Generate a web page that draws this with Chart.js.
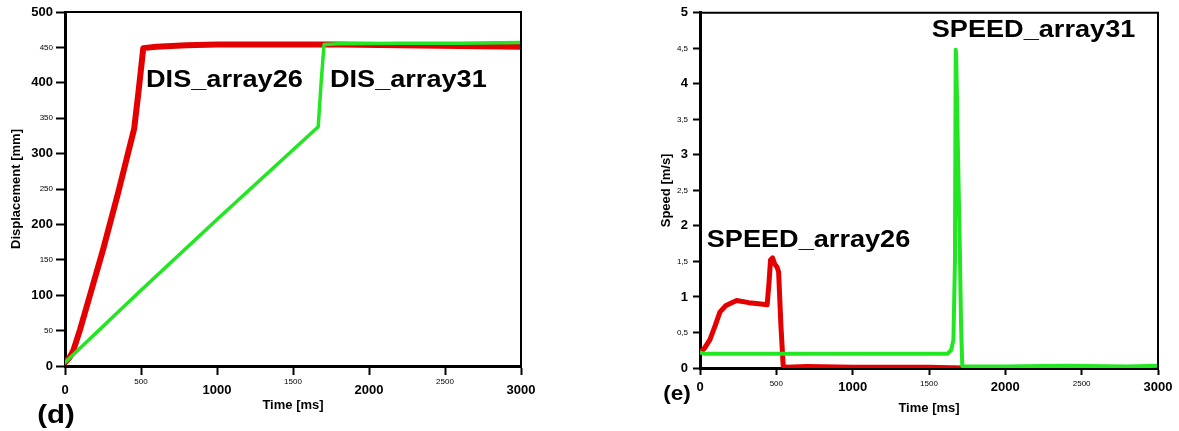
<!DOCTYPE html>
<html><head><meta charset="utf-8">
<script src="https://cdn.jsdelivr.net/npm/chart.js@4.4.1/dist/chart.umd.min.js"></script>
<style>
html,body{margin:0;padding:0;background:#fff;width:1179px;height:431px;overflow:hidden}
#c1{position:absolute;left:0;top:0}
#c2{position:absolute;left:620px;top:0}
</style></head><body>
<canvas id="c1" width="560" height="431"></canvas>
<canvas id="c2" width="559" height="431"></canvas>
<script>
// ---- data ----
const dispTime26 = [0, 30, 55, 100, 175, 250, 350, 455, 485, 515, 600, 800, 1000, 1400, 1800, 2200, 2600, 3000];
const disp26     = [5, 12, 22, 52, 108, 164, 245, 335, 390, 449, 451, 453, 454, 454, 454, 453, 452, 451];
const dispTime31 = [0, 500, 1000, 1666, 1685, 1704, 1800, 2200, 2600, 3000];
const disp31     = [5, 107, 207, 338, 400, 454, 455, 456, 456, 457];

const speedTime26 = [0, 30, 65, 100, 131, 170, 240, 320, 400, 440, 452, 462, 475, 490, 505, 515, 530, 545, 565, 700, 1000, 1300, 1500, 1730];
const speed26     = [0.22, 0.28, 0.40, 0.60, 0.79, 0.88, 0.95, 0.92, 0.90, 0.89, 1.20, 1.52, 1.55, 1.46, 1.42, 1.35, 0.60, 0.03, 0.01, 0.02, 0.01, 0.01, 0.01, 0.00];
const speedTime31 = [0, 30, 400, 800, 1200, 1620, 1645, 1660, 1670, 1675, 1678, 1690, 1701, 1710, 1718, 1735, 2000, 2400, 2800, 3000];
const speed31     = [0.22, 0.20, 0.20, 0.20, 0.20, 0.20, 0.25, 0.40, 1.50, 4.48, 4.40, 3.00, 1.80, 0.60, 0.03, 0.02, 0.02, 0.03, 0.02, 0.03];

const disLabels  = ['DIS_array26', 'DIS_array31'];
const disLabelX  = [533, 1743];
const disLabelY  = [394, 394];
const spdLabels  = ['SPEED_array26', 'SPEED_array31'];
const spdLabelX  = [44, 1518];
const spdLabelY  = [1.70, 4.665];

// ---- styling ----
const FONT = '"Liberation Sans", Arial, Helvetica, sans-serif';
const RED = 'rgb(228,0,0)';
const GREEN = 'rgb(34,230,34)';
const STRETCH = 1.13;

function pts(xs, ys){ return xs.map((t,i)=>({x:t, y:ys[i]})); }

function decor(cfg){
  return {
    id:'decor',
    afterDatasetsDraw(chart){
      const {ctx, chartArea:a, scales:{x, y}} = chart;
      ctx.save();
      ctx.strokeStyle = '#000'; ctx.lineWidth = 2;
      ctx.beginPath(); ctx.moveTo(a.left, a.top); ctx.lineTo(a.right, a.top); ctx.lineTo(a.right, a.bottom); ctx.stroke();
      ctx.fillStyle = '#000'; ctx.textAlign = 'left'; ctx.textBaseline = 'alphabetic';
      ctx.font = 'bold 24px ' + FONT;
      cfg.texts.forEach((t,i)=>{
        ctx.save();
        ctx.translate(x.getPixelForValue(cfg.xs[i]), y.getPixelForValue(cfg.ys[i]));
        ctx.scale(STRETCH,1); ctx.fillText(t,0,0); ctx.restore();
      });
      ctx.font = 'bold ' + cfg.letterSize + 'px ' + FONT;
      ctx.textAlign = 'center'; ctx.textBaseline = 'middle';
      ctx.save(); ctx.translate(cfg.lx, cfg.ly); ctx.scale(STRETCH,1); ctx.fillText(cfg.letter,0,0); ctx.restore();
      ctx.restore();
    }
  };
}

function xScale(h, tickLen, tickPad, majLH, minLH, titlePad){
  return {
    type:'linear', min:0, max:3000,
    ticks:{stepSize:500, autoSkip:false, maxRotation:0, color:'#000', padding:tickPad,
      callback: v => String(v),
      font: c => (c.tick && c.tick.value % 1000 === 0)
        ? {family:FONT, size:13, weight:'bold', lineHeight:majLH}
        : {family:FONT, size:8, weight:'normal', lineHeight:minLH}},
    grid:{drawOnChartArea:false, drawTicks:true, tickLength:tickLen, tickWidth:2, tickColor:'#000', color:'#000'},
    border:{display:true, color:'#000', width:3},
    title:{display:true, text:'Time [ms]', color:'#000', font:{family:FONT, size:13, weight:'bold'}, padding:{top:0, bottom:titlePad}},
    afterFit(s){ s.height = h; }
  };
}

function yScale(max, step, isMajor, fmt, title, w, tickLen, tickPad, titlePad){
  return {
    type:'linear', min:0, max:max,
    ticks:{stepSize:step, autoSkip:false, color:'#000', padding:tickPad, callback: fmt,
      font: c => (c.tick && isMajor(c.tick.value))
        ? {family:FONT, size:13, weight:'bold'}
        : {family:FONT, size:8, weight:'normal'}},
    grid:{drawOnChartArea:false, drawTicks:true, tickLength:tickLen, tickWidth:2, tickColor:'#000', color:'#000'},
    border:{display:true, color:'#000', width:3},
    title:{display:true, text:title, color:'#000', font:{family:FONT, size:13, weight:'bold'}, padding:{top:titlePad, bottom:0}},
    afterFit(s){ s.width = w; }
  };
}

const common = {
  responsive:false, animation:false, devicePixelRatio:1,
  plugins:{legend:{display:false}, tooltip:{enabled:false}},
  elements:{point:{radius:0}, line:{tension:0, borderJoinStyle:'round', borderCapStyle:'round'}}
};

new Chart(document.getElementById('c1'), {
  type:'line',
  data:{datasets:[
    {label:'DIS_array31', data:pts(dispTime31, disp31), borderColor:GREEN, borderWidth:3.5, pointRadius:0, fill:false},
    {label:'DIS_array26', data:pts(dispTime26, disp26), borderColor:RED, borderWidth:6, pointRadius:0, fill:false}
  ]},
  options:Object.assign({}, common, {
    layout:{padding:{left:0, right:39, top:12, bottom:0}},
    scales:{
      x: xScale(65, 9, 2, 2.0, 1.25, 18),
      y: yScale(500, 50, v => v % 100 === 0, v => String(v), 'Displacement [mm]', 65, 9, 3, 9)
    }
  }),
  plugins:[decor({texts:disLabels, xs:disLabelX, ys:disLabelY, letter:'(d)', letterSize:26, lx:56, ly:416})]
});

new Chart(document.getElementById('c2'), {
  type:'line',
  data:{datasets:[
    {label:'SPEED_array31', data:pts(speedTime31, speed31), borderColor:GREEN, borderWidth:4, pointRadius:0, fill:false},
    {label:'SPEED_array26', data:pts(speedTime26, speed26), borderColor:RED, borderWidth:5, pointRadius:0, fill:false}
  ]},
  options:Object.assign({}, common, {
    layout:{padding:{left:0, right:21, top:12, bottom:0}},
    scales:{
      x: xScale(63, 7, 2, 1.6, 1.6, 15),
      y: yScale(5, 0.5, v => Math.abs(v - Math.round(v)) < 1e-9, v => String(v).replace('.', ','), 'Speed [m/s]', 80, 7, 5, 39)
    }
  }),
  plugins:[decor({texts:spdLabels, xs:spdLabelX, ys:spdLabelY, letter:'(e)', letterSize:20, lx:57, ly:394})]
});
</script>
</body></html>
